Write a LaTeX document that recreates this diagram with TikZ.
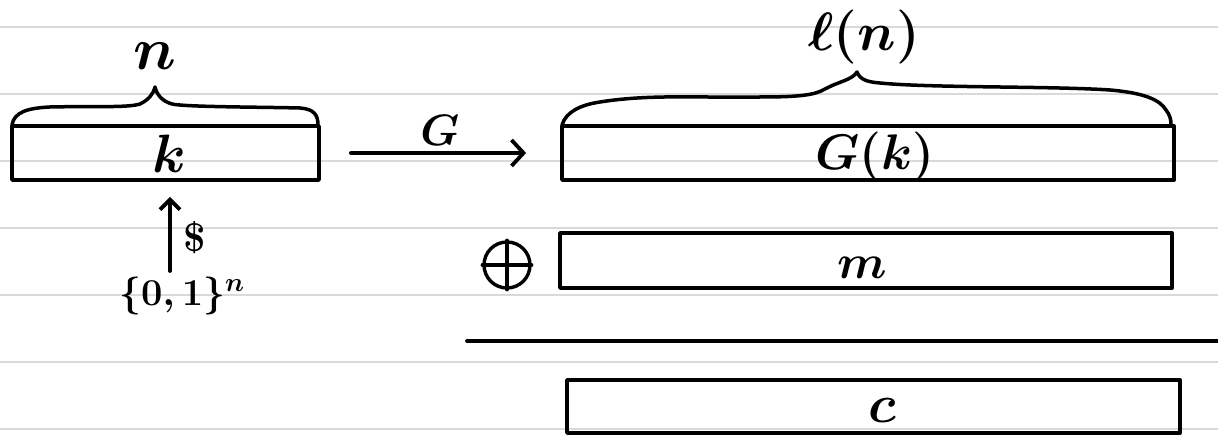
\documentclass[tikz,border=0pt]{standalone}
\usepackage{fix-cm}
\usetikzlibrary{arrows.meta}
\begin{document}
\begin{tikzpicture}[x=1pt,y=-1pt, line cap=round, line join=round,
  rule/.style={draw=black!15, line width=1.8pt},
  ink/.style={draw=black, line width=3.8pt},
  bar/.style={ink, rectangle, inner sep=0pt, anchor=center},
  lbl/.style={inner sep=0pt, text=black, font=\fontsize{#1}{#1}\selectfont\boldmath\bfseries},
  arr/.style={ink, -{Straight Barb[length=12pt,width=26pt]}},
  brace/.style={draw=black, line width=3.5pt}]
\fill[white] (0,0) rectangle (1218,435);
\useasboundingbox (0,0) rectangle (1218,435);
% ruled paper
\foreach \yy in {26.7,93.7,160.7,227.7,294.7,361.7,428.7}
  \draw[rule] (0,\yy) -- (1218,\yy);

% boxes
\node[bar, minimum width=307pt, minimum height=54pt] (kbox) at (165.5,153) {};
\node[bar, minimum width=612pt, minimum height=54pt] (gkbox) at (868,153) {};
\node[bar, minimum width=612pt, minimum height=55pt] (mbox) at (866,260.5) {};
\node[bar, minimum width=613pt, minimum height=53pt] (cbox) at (873.5,406.5) {};

% labels in boxes
\node[lbl=54] (ktxt) at (169,154) {$k$};
\node[lbl=50] (gktxt) at (875,157) {$G(k)$};
\node[lbl=48] (mtxt) at (862,268) {$m$};
\node[lbl=54] (ctxt) at (882,410) {$c$};

% brace over k
\draw[brace] (12,125) .. controls (14,112) and (28,108) .. (50,107)
  .. controls (90,106) and (128,108) .. (140,104)
  .. controls (148,100) and (153,95) .. (155,87)
  .. controls (157,95) and (162,101) .. (172,104)
  .. controls (185,107) and (260,107) .. (300,108)
  .. controls (314,109) and (318,115) .. (318,125);
\node[lbl=60] (ntxt) at (155,56) {$n$};

% brace over G(k)
\draw[brace] (562,125) .. controls (566,112) and (580,105) .. (600,102)
  .. controls (650,94) and (700,98) .. (760,97)
  .. controls (800,97) and (815,95) .. (825,89)
  .. controls (840,81) and (852,80) .. (857,72)
  .. controls (860,80) and (868,82) .. (880,83)
  .. controls (930,88) and (1050,86) .. (1110,90)
  .. controls (1145,93) and (1160,100) .. (1166,110)
  .. controls (1170,115) and (1171,120) .. (1171,124);
\node[lbl=54] (lntxt) at (864,37) {$\ell(n)$};

% G arrow
\draw[arr, shorten <=30pt, shorten >=34pt] (kbox) -- (gkbox);
\node[lbl=44] (gtxt) at (440,130) {$G$};

% sampling arrow
\node[lbl=38] (set) at (182,296) {$\{0,1\}^n$};
\coordinate (src) at (170,271);
\draw[ink, -{Straight Barb[length=10pt,width=20pt]}, shorten >=15pt] (src) -- (src |- kbox.south);
\node[lbl=40] (dollar) at (195,238) {\$};

% xor
\node[draw=black, circle, line width=3.4pt, minimum size=46pt, inner sep=0pt] (xor) at (507,265) {};
\draw[ink, line width=3.4pt] (xor.west) -- (xor.east);
\draw[ink, line width=3.4pt] (xor.north) -- (xor.south);

% separator line
\draw[ink] (467,341) -- (1218,341);
\end{tikzpicture}
\end{document}
